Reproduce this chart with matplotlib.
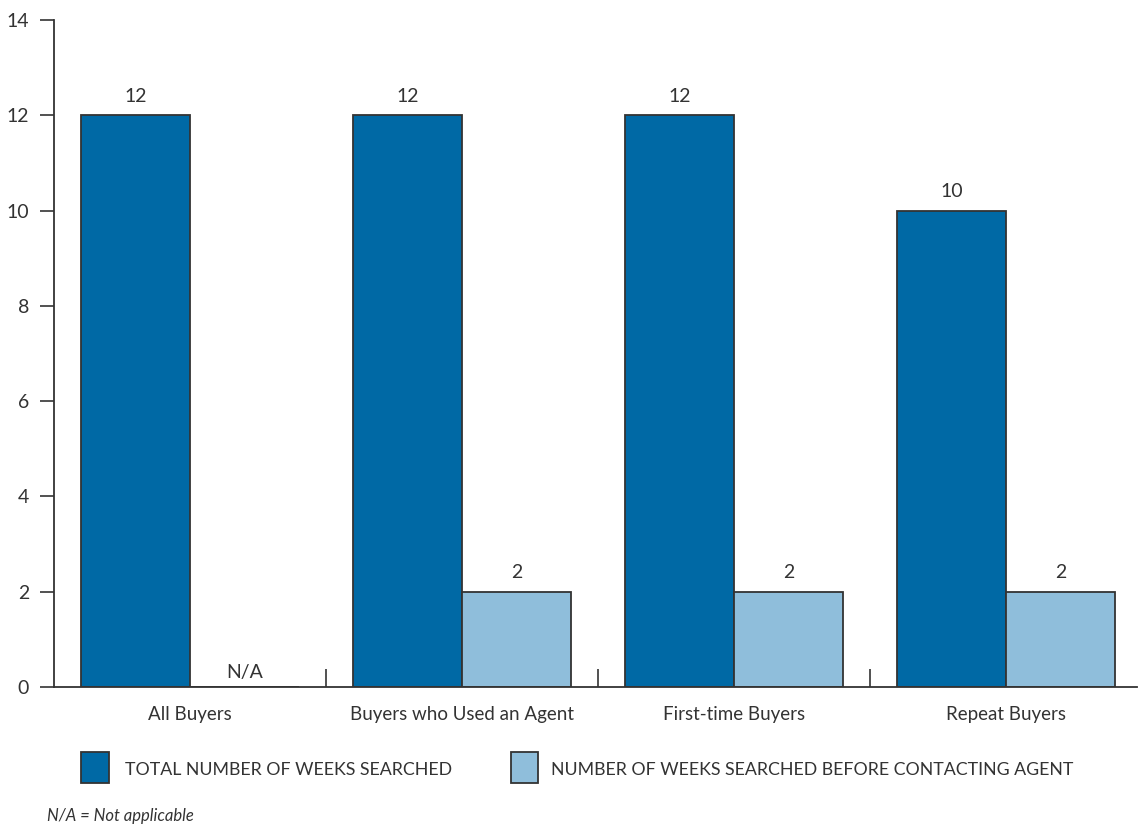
import matplotlib
matplotlib.use("Agg")
import matplotlib.pyplot as plt
import numpy as np
from matplotlib.patches import Rectangle

categories = ["All Buyers", "Buyers who Used an Agent", "First-time Buyers", "Repeat Buyers"]
total_weeks = [12, 12, 12, 10]
before_agent = [None, 2, 2, 2]
series_names = ["TOTAL NUMBER OF WEEKS SEARCHED",
                "NUMBER OF WEEKS SEARCHED BEFORE CONTACTING AGENT"]
y_ticks = [0, 2, 4, 6, 8, 10, 12, 14]
footnote = "N/A = Not applicable"

dark = "#0069a5"
light = "#8fbedb"
edge = "#333333"
txt = "#333333"

plt.rcParams['font.family'] = ['Lato', 'DejaVu Sans']

fig = plt.figure(figsize=(11.38, 8.27), dpi=100)
ax = fig.add_axes([54/1138, 1 - 687/827, (1137-54)/1138, (687-20)/827])

x = np.arange(len(categories))
w = 0.4
ax.bar(x - w/2, total_weeks, width=w, color=dark, edgecolor=edge, linewidth=1.3)
vals2 = [v if v is not None else 0 for v in before_agent]
ax.bar(x + w/2, vals2, width=w, color=light, edgecolor=edge, linewidth=1.3)

for xi, v in zip(x, total_weeks):
    ax.text(xi - w/2, v + 0.22, str(v), ha="center", va="bottom", fontsize=14, color=txt)
for xi, v in zip(x, before_agent):
    if v is None:
        ax.text(xi + w/2, 0.12, "N/A", ha="center", va="bottom", fontsize=14, color=txt)
    else:
        ax.text(xi + w/2, v + 0.22, str(v), ha="center", va="bottom", fontsize=14, color=txt)

ax.set_xlim(-0.5, 3.482)
ax.set_ylim(0, 14)
ax.set_yticks(y_ticks)
ax.set_yticklabels([str(t) for t in y_ticks])
ax.set_xticks(x)
ax.set_xticklabels(categories)
ax.tick_params(axis="x", length=0, pad=14, labelsize=13.5, labelcolor=txt)
ax.tick_params(axis="y", length=10, width=1.2, color=edge, pad=8, labelsize=14, labelcolor=txt)
ax.set_xticks([0.5, 1.5, 2.5], minor=True)
ax.tick_params(axis="x", which="minor", direction="in", length=13, width=1.2, color=edge)

for s in ["top", "right"]:
    ax.spines[s].set_visible(False)
for s in ["left", "bottom"]:
    ax.spines[s].set_color(edge)
    ax.spines[s].set_linewidth(1.3)

# legend
fig.patches.append(Rectangle((81/1138, 1 - 783/827), 28/1138, 31/827,
                             transform=fig.transFigure, facecolor=dark, edgecolor=edge, linewidth=1.3))
fig.text(125/1138, 1 - 770/827, series_names[0], ha="left", va="center", fontsize=12.8, color=txt)
fig.patches.append(Rectangle((511/1138, 1 - 783/827), 27/1138, 31/827,
                             transform=fig.transFigure, facecolor=light, edgecolor=edge, linewidth=1.3))
fig.text(551/1138, 1 - 770/827, series_names[1], ha="left", va="center", fontsize=12.8, color=txt)

fig.text(47/1138, 1 - 816/827, footnote, ha="left", va="center", fontsize=12,
         style="italic", color=txt)

fig.savefig("out.png", dpi=100)
